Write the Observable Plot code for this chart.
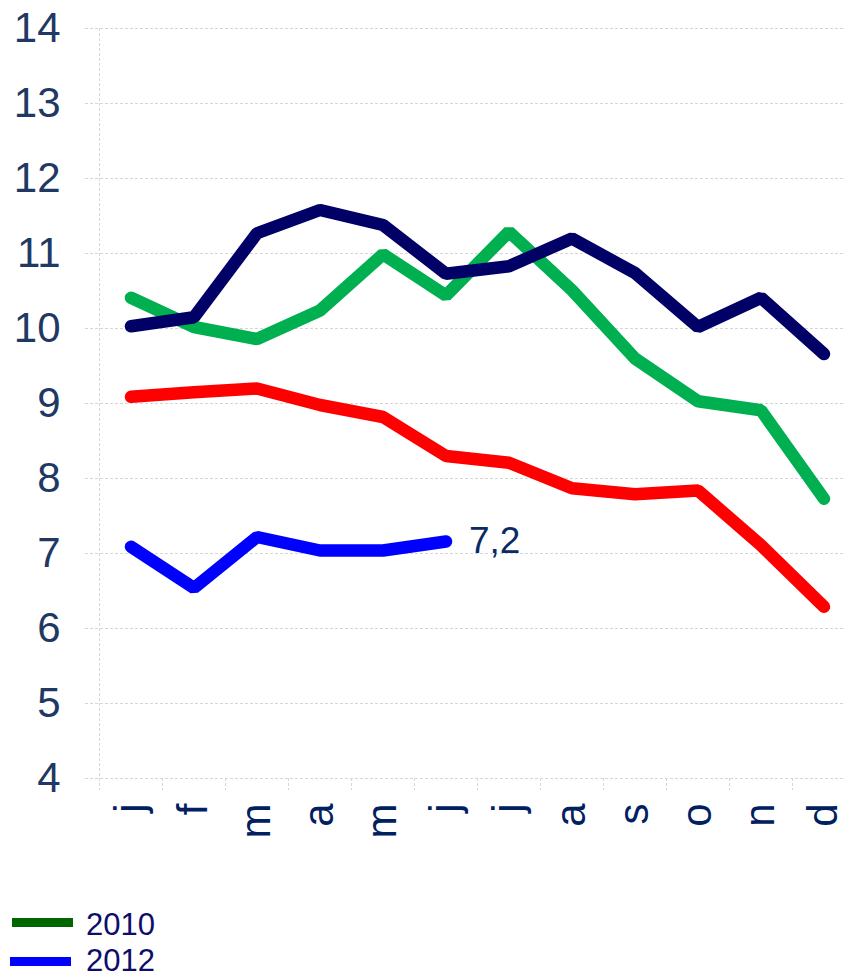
<!DOCTYPE html>
<html>
<head>
<meta charset="utf-8">
<script src="https://cdn.jsdelivr.net/npm/d3@7"></script>
<script src="https://cdn.jsdelivr.net/npm/@observablehq/plot@0.6"></script>
<style>
  html, body { margin: 0; padding: 0; background: #ffffff; }
  #chart { position: relative; width: 845px; }
  #legend { position: relative; width: 845px; height: 96px; font-family: "Liberation Sans", Arial, sans-serif; }
  .sw { position: absolute; height: 9px; width: 61px; }
  .lt { position: absolute; font-size: 31px; line-height: 26px; color: #0D0D6B; }
</style>
</head>
<body>
<div id="chart"></div>
<div id="legend"></div>
<script>
// ---- data ----
const months = ["j", "f", "m", "a", "m", "j", "j", "a", "s", "o", "n", "d"];
const yTicks = [4, 5, 6, 7, 8, 9, 10, 11, 12, 13, 14];
const seriesNames = ["2011", "2010", "2009", "2012"]; // drawing order
const seriesColors = ["#FF0000", "#00B050", "#000066", "#0000FF"];
const s2009 = [10.03, 10.15, 11.27, 11.58, 11.38, 10.73, 10.83, 11.20, 10.74, 10.02, 10.41, 9.66];
const s2010 = [10.41, 10.02, 9.86, 10.24, 10.99, 10.44, 11.29, 10.51, 9.60, 9.03, 8.91, 7.73];
const s2011 = [9.09, 9.15, 9.20, 8.98, 8.82, 8.30, 8.21, 7.87, 7.79, 7.84, 7.11, 6.29];
const s2012 = [7.09, 6.54, 7.22, 7.04, 7.04, 7.16];
const endLabels = ["7,2"];
const legendNames = ["2010", "2012"];
const legendColors = ["#006600", "#0000FF"];

// ---- build table ----
const valuesBySeries = { "2009": s2009, "2010": s2010, "2011": s2011, "2012": s2012 };
const rows = [];
for (const s of seriesNames) {
  valuesBySeries[s].forEach((v, i) => rows.push({ series: s, i, v }));
}
const labelRows = [{ i: s2012.length - 1, v: s2012[s2012.length - 1], text: endLabels[0] }];
const boundaries = d3.range(months.length + 1);
const centers = d3.range(months.length).map(i => i + 0.5);

const grid = "#d6d6d6";

const chart = Plot.plot({
  width: 845,
  height: 880,
  marginTop: 28,
  marginBottom: 102,
  marginLeft: 98,
  marginRight: 0,
  style: { fontFamily: "'Liberation Sans', Arial, sans-serif", background: "#ffffff" },
  x: { type: "linear", domain: [0, months.length], range: [99, 855], label: null },
  y: { domain: [4, 14], label: null },
  color: { domain: seriesNames, range: seriesColors },
  marks: [
    Plot.gridY(yTicks, { stroke: grid, strokeOpacity: 1, strokeDasharray: "3,2", insetLeft: -13 }),
    Plot.ruleX([0], { stroke: grid, strokeDasharray: "3,2" }),
    Plot.axisX(boundaries, { tickSize: 12, tickFormat: () => "", stroke: grid, strokeDasharray: "3,2", label: null }),
    Plot.axisY(yTicks, { tickSize: 0, tickPadding: 38, fontSize: 42, fill: "#1F3864", tickFormat: d => String(d), label: null }),
    Plot.axisX(centers, {
      tickSize: 0, tickPadding: 25, tickRotate: -90, fontSize: 42, fill: "#002060",
      tickFormat: d => months[Math.floor(d)], label: null
    }),
    Plot.line(rows, {
      x: d => d.i + 0.5, y: "v", z: "series", stroke: "series",
      strokeWidth: 12.5, strokeLinecap: "round", strokeLinejoin: "miter", curve: "linear"
    }),
    Plot.text(labelRows, {
      x: d => d.i + 0.5, y: "v", text: "text", dx: 23, textAnchor: "start",
      fontSize: 37, fill: "#0A2A66"
    })
  ]
});
document.getElementById("chart").appendChild(chart);

// ---- legend ----
const legend = document.getElementById("legend");
const swTops = [38, 77];
const swLefts = [12, 10];
const txTops = [31.5, 67.5];
legendNames.forEach((name, k) => {
  const sw = document.createElement("div");
  sw.className = "sw";
  sw.style.left = swLefts[k] + "px";
  sw.style.top = swTops[k] + "px";
  sw.style.background = legendColors[k];
  legend.appendChild(sw);
  const t = document.createElement("div");
  t.className = "lt";
  t.style.left = "86px";
  t.style.top = txTops[k] + "px";
  t.textContent = name;
  legend.appendChild(t);
});
</script>
</body>
</html>
